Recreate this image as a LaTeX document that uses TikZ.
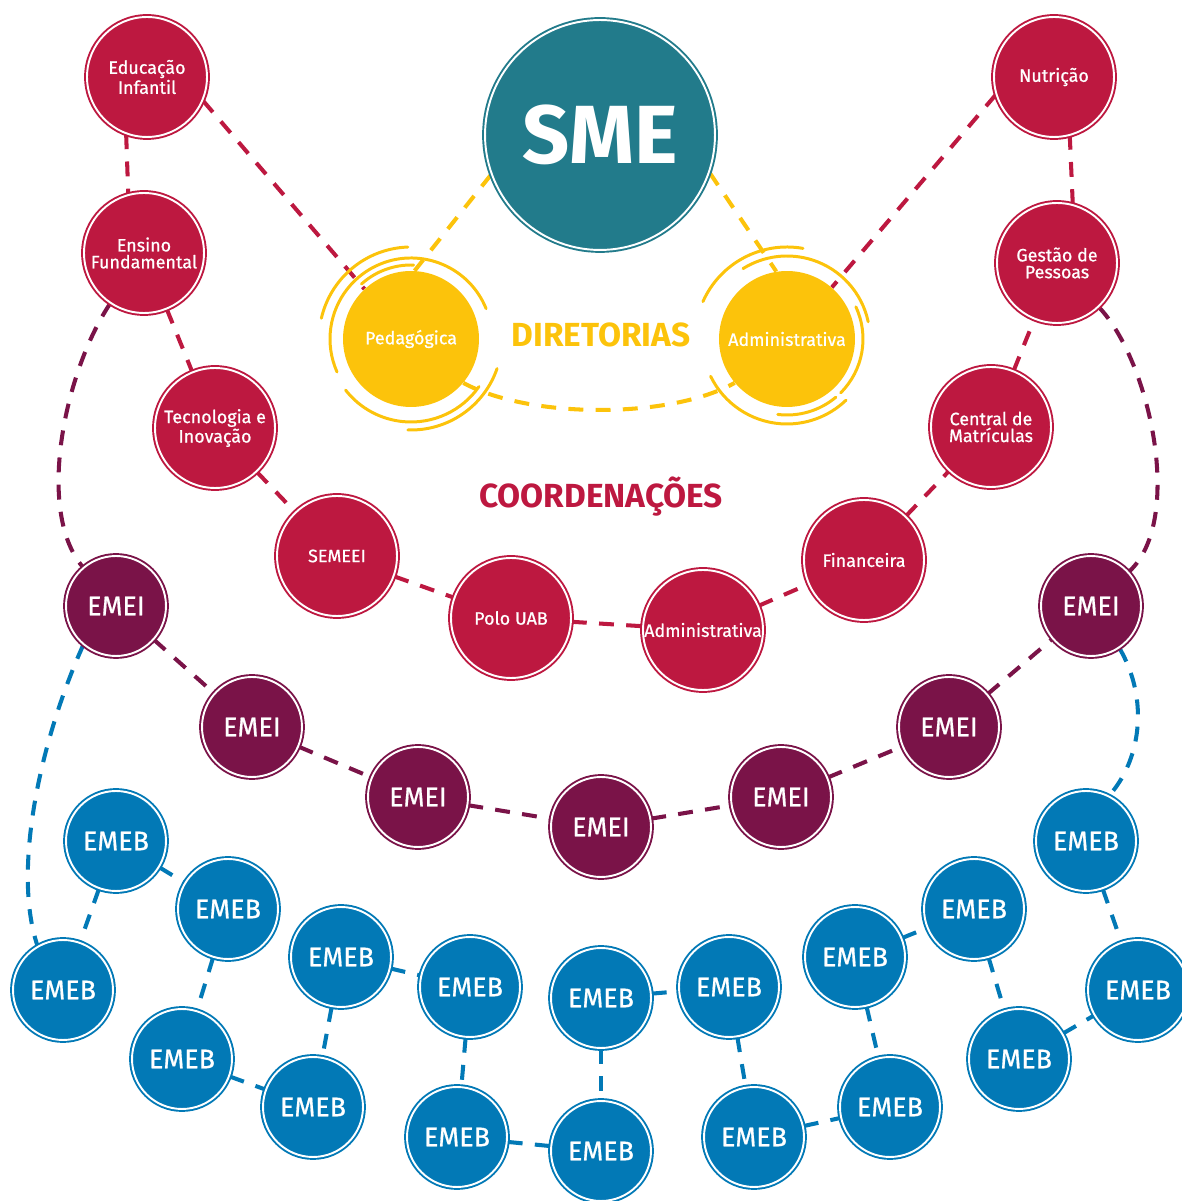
\documentclass[tikz,border=0pt]{standalone}
\usepackage{fontspec}
\setmainfont{Fira Sans}
\newfontfamily\mediumfont{Fira Sans}[FakeBold=0.7]
\usetikzlibrary{backgrounds}
\definecolor{smeteal}{HTML}{227B8B}
\definecolor{diryellow}{HTML}{FCC30B}
\definecolor{coordred}{HTML}{BD1840}
\definecolor{emeipurple}{HTML}{7A1348}
\definecolor{emebblue}{HTML}{0279B6}

\begin{document}
\begin{tikzpicture}[x=0.02cm, y=0.02cm,
  every node/.style={circle, inner sep=0pt, text=white, align=center},
  ring/.style={fill=#1, draw=#1, double=white, double distance=1.1pt, line width=1.1pt},
  coord/.style={ring=coordred, minimum size=2.4cm, font=\mediumfont\fontsize{10.2}{9.6}\selectfont},
  emei/.style={ring=emeipurple, minimum size=2.0cm, font=\mediumfont\fontsize{15.3}{16}\selectfont},
  emeb/.style={ring=emebblue, minimum size=2.0cm, font=\mediumfont\fontsize{15.3}{16}\selectfont},
  diret/.style={fill=diryellow, minimum size=2.72cm, font=\mediumfont\fontsize{10.2}{12}\selectfont},
  link/.style={draw=#1, line width=2.3pt, dash pattern=on 8.5pt off 7pt},
  halo/.style={draw=diryellow, line width=1.7pt, line cap=round},
  title/.style={rectangle, font=\bfseries\fontsize{19}{20}\selectfont}
]
\useasboundingbox (0,0) rectangle (1182,1201);

% secretaria e diretorias
\node[ring=smeteal, minimum size=4.6cm, font=\bfseries\fontsize{47}{47}\selectfont] (sme) at (600,1066) {SME};
\node[diret] (ped) at (411,862) {Pedagógica};
\node[diret] (admy) at (787,862) {Administrativa};
\node[title, text=diryellow] (dirlabel) at (601,866) {DIRETORIAS};
\node[title, text=coordred] (coordlabel) at (601,704) {COORDENAÇÕES};

% coordenacoes
\node[coord] (ei) at (147,1124) {Educação\\Infantil};
\node[coord] (ef) at (144,948) {Ensino\\Fundamental};
\node[coord] (tec) at (215,773) {Tecnologia e\\Inovação};
\node[coord] (semeei) at (337,645) {SEMEEI};
\node[coord] (polo) at (511,583) {Polo UAB};
\node[coord] (admc) at (703,571) {Administrativa};
\node[coord] (fin) at (864,641) {Financeira};
\node[coord] (central) at (991,774) {Central de\\Matrículas};
\node[coord] (gest) at (1057,938) {Gestão de\\Pessoas};
\node[coord] (nut) at (1054,1124) {Nutrição};

% EMEIs
\foreach \n/\x/\y in {A/116/595, B/252/474, C/418/404, D/601/374, E/781/404, F/949/474, G/1091/595}
  \node[emei] (emei\n) at (\x,\y) {EMEI};

% EMEBs
\foreach \n/\x/\y in {1/116/360, 2/228/292, 3/63/211, 4/182/142, 5/341/244, 6/313/94,
    7/470/214, 8/457/64, 9/601/203, 10/601/50, 11/729/214, 12/754/64, 13/855/244,
    14/890/94, 15/974/292, 16/1019/142, 17/1086/360, 18/1138/211}
  \node[emeb] (b\n) at (\x,\y) {EMEB};

% aneis das diretorias
\foreach \a/\b/\r in {92/167/92, 22/204/81, 88/132/74, -19/-92/91, -35/-142/83}
  \draw[halo] ([shift={(\a:\r)}]ped.center) arc[start angle=\a, end angle=\b, radius=\r];
\foreach \a/\b/\r in {80/156/92, 12/122/83, 25/-45/76, -154/-46/85, -50/-97/76}
  \draw[halo] ([shift={(\a:\r)}]admy.center) arc[start angle=\a, end angle=\b, radius=\r];

\begin{scope}[on background layer]
  % amarelo
  \draw[link=diryellow] (sme.200) -- (ped.87);
  \draw[link=diryellow] (sme.-19) -- (admy.99);
  \draw[link=diryellow] (ped.-40) .. controls (530,782) and (670,782) .. (admy.-140);
  % vermelho
  \draw[link=coordred] (ei.250) -- (ef.105);
  \draw[link=coordred] (ei.-23) -- (ped.133);
  \draw[link=coordred] (ef) -- (tec) -- (semeei) -- (polo) -- (admc) -- (fin) -- (central) -- (gest);
  \draw[link=coordred] (gest.75) -- (nut.285);
  \draw[link=coordred] (nut.197) -- (admy.49);
  % roxo
  \draw[link=emeipurple] (ef) .. controls (65,830) and (35,690) .. (emeiA);
  \draw[link=emeipurple] (gest) .. controls (1150,840) and (1185,680) .. (emeiG);
  \draw[link=emeipurple] (emeiA) -- (emeiB) -- (emeiC) -- (emeiD) -- (emeiE) -- (emeiF) -- (emeiG);
  % azul
  \draw[link=emebblue] (emeiA.230) .. controls (40,460) and (12,330) .. (b3.120);
  \draw[link=emebblue] (emeiG.-56) .. controls (1150,500) and (1140,440) .. (b17.63);
  \foreach \p/\q in {1/2, 1/3, 2/4, 4/6, 5/6, 5/7, 7/8, 8/10, 9/10, 9/11, 11/12,
      12/14, 13/14, 13/15, 15/16, 16/18, 17/18}
    \draw[link=emebblue] (b\p) -- (b\q);
\end{scope}
\end{tikzpicture}
\end{document}
